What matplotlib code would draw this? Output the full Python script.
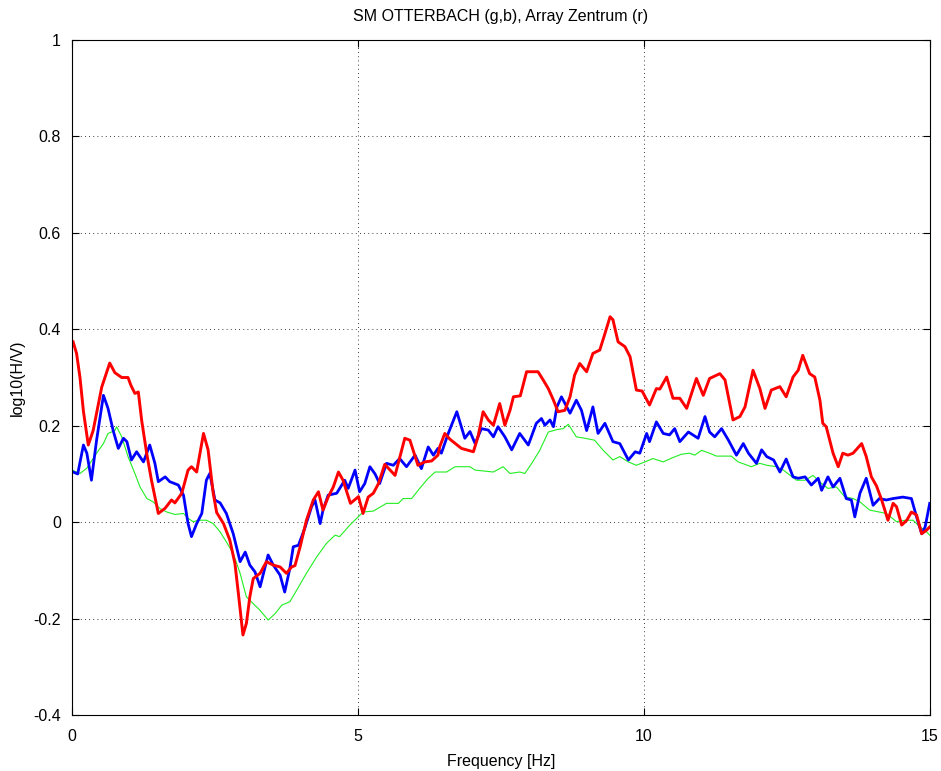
import matplotlib
matplotlib.use("Agg")
import matplotlib.pyplot as plt
from matplotlib.ticker import FormatStrFormatter

# --- digitised H/V curves (frequency in Hz, log10(H/V)) ---
green_f = [0.02, 0.14, 0.26, 0.43, 0.55, 0.63, 0.75, 0.78, 0.87, 0.98, 1.10, 1.19, 1.31, 1.42,
           1.54, 1.66, 1.80, 1.95, 2.03, 2.12, 2.21, 2.35, 2.47, 2.59, 2.70, 2.82, 2.94, 3.05,
           3.17, 3.29, 3.43, 3.55, 3.67, 3.81, 3.93, 4.10, 4.28, 4.45, 4.60, 4.68, 4.86, 5.09,
           5.27, 5.50, 5.71, 5.79, 5.94, 6.08, 6.23, 6.35, 6.55, 6.70, 6.96, 7.05, 7.37, 7.54,
           7.66, 7.83, 7.92, 8.04, 8.18, 8.33, 8.48, 8.59, 8.68, 8.82, 8.97, 9.14, 9.29, 9.46,
           9.58, 9.73, 9.87, 10.02, 10.16, 10.34, 10.51, 10.66, 10.80, 10.89, 11.01, 11.15,
           11.27, 11.53, 11.65, 11.88, 12.03, 12.15, 12.32, 12.44, 12.67, 12.82, 12.96, 13.08,
           13.22, 13.37, 13.51, 13.66, 13.78, 13.95, 14.12, 14.24, 14.42, 14.57, 14.71, 14.83,
           14.92, 15.0]
green_v = [0.107, 0.101, 0.112, 0.143, 0.163, 0.184, 0.190, 0.198, 0.177, 0.136, 0.101, 0.073,
           0.049, 0.042, 0.028, 0.021, 0.016, 0.018, 0.008, 0.001, 0.004, 0.004, -0.003, -0.020,
           -0.041, -0.065, -0.106, -0.155, -0.169, -0.183, -0.203, -0.190, -0.172, -0.165,
           -0.141, -0.106, -0.072, -0.044, -0.027, -0.030, -0.006, 0.021, 0.023, 0.039, 0.039,
           0.049, 0.049, 0.070, 0.091, 0.104, 0.104, 0.115, 0.115, 0.108, 0.104, 0.115, 0.101,
           0.104, 0.101, 0.122, 0.149, 0.187, 0.192, 0.194, 0.203, 0.177, 0.174, 0.170, 0.149,
           0.129, 0.136, 0.125, 0.118, 0.125, 0.132, 0.125, 0.134, 0.141, 0.143, 0.139, 0.149,
           0.143, 0.137, 0.137, 0.125, 0.115, 0.122, 0.118, 0.115, 0.108, 0.087, 0.087, 0.097,
           0.083, 0.070, 0.073, 0.053, 0.049, 0.042, 0.025, 0.021, 0.018, 0.001, 0.004, 0.004,
           -0.010, -0.017, -0.027]

blue_f = [0.02, 0.10, 0.20, 0.26, 0.34, 0.43, 0.55, 0.63, 0.72, 0.81, 0.90, 0.96, 1.04, 1.13,
          1.25, 1.36, 1.45, 1.51, 1.63, 1.71, 1.86, 1.95, 2.03, 2.09, 2.18, 2.27, 2.35, 2.41,
          2.50, 2.59, 2.70, 2.82, 2.94, 3.03, 3.11, 3.20, 3.29, 3.43, 3.52, 3.64, 3.72, 3.81,
          3.87, 3.96, 4.07, 4.19, 4.25, 4.34, 4.39, 4.48, 4.63, 4.77, 4.83, 4.95, 5.03, 5.12,
          5.21, 5.30, 5.38, 5.50, 5.62, 5.73, 5.85, 6.00, 6.11, 6.23, 6.32, 6.40, 6.46, 6.58,
          6.73, 6.87, 6.96, 7.05, 7.16, 7.28, 7.37, 7.45, 7.57, 7.69, 7.83, 7.98, 8.12, 8.21,
          8.27, 8.36, 8.42, 8.48, 8.56, 8.71, 8.82, 8.91, 9.00, 9.11, 9.20, 9.32, 9.46, 9.58,
          9.73, 9.85, 9.93, 10.05, 10.10, 10.22, 10.34, 10.45, 10.54, 10.63, 10.78, 10.95,
          11.07, 11.15, 11.24, 11.36, 11.48, 11.62, 11.74, 11.83, 11.97, 12.06, 12.15, 12.27,
          12.38, 12.49, 12.61, 12.70, 12.82, 12.93, 13.05, 13.11, 13.22, 13.31, 13.43, 13.54,
          13.63, 13.69, 13.78, 13.89, 14.01, 14.12, 14.24, 14.36, 14.53, 14.68, 14.77, 14.86,
          14.92, 15.0]
blue_v = [0.104, 0.100, 0.160, 0.143, 0.087, 0.170, 0.263, 0.236, 0.190, 0.153, 0.174, 0.167,
          0.129, 0.146, 0.125, 0.160, 0.122, 0.084, 0.094, 0.084, 0.077, 0.056, -0.003, -0.030,
          -0.003, 0.018, 0.087, 0.101, 0.046, 0.040, 0.018, -0.024, -0.082, -0.062, -0.089,
          -0.103, -0.134, -0.068, -0.089, -0.110, -0.145, -0.096, -0.051, -0.048, -0.013, 0.032,
          0.046, -0.003, 0.025, 0.056, 0.060, 0.087, 0.070, 0.108, 0.063, 0.080, 0.115, 0.100,
          0.080, 0.122, 0.118, 0.132, 0.115, 0.139, 0.111, 0.156, 0.139, 0.153, 0.143, 0.184,
          0.229, 0.174, 0.188, 0.163, 0.194, 0.191, 0.177, 0.198, 0.177, 0.150, 0.184, 0.160,
          0.205, 0.215, 0.201, 0.212, 0.198, 0.239, 0.260, 0.226, 0.253, 0.232, 0.190, 0.239,
          0.184, 0.205, 0.167, 0.163, 0.129, 0.146, 0.143, 0.184, 0.167, 0.208, 0.184, 0.181,
          0.194, 0.167, 0.187, 0.174, 0.219, 0.187, 0.177, 0.194, 0.170, 0.139, 0.163, 0.143,
          0.122, 0.150, 0.136, 0.129, 0.104, 0.131, 0.094, 0.091, 0.094, 0.077, 0.091, 0.066,
          0.094, 0.073, 0.091, 0.049, 0.046, 0.011, 0.060, 0.091, 0.035, 0.049, 0.046, 0.049,
          0.052, 0.049, 0.011, -0.024, -0.010, 0.039]

red_f = [0.02, 0.08, 0.14, 0.20, 0.285, 0.37, 0.52, 0.66, 0.75, 0.87, 0.98, 1.03, 1.10, 1.16,
         1.22, 1.31, 1.39, 1.51, 1.63, 1.74, 1.80, 1.92, 2.03, 2.09, 2.18, 2.30, 2.38, 2.47,
         2.53, 2.65, 2.76, 2.85, 2.91, 2.99, 3.05, 3.11, 3.17, 3.29, 3.40, 3.52, 3.64, 3.75,
         3.84, 3.90, 3.99, 4.10, 4.22, 4.31, 4.39, 4.48, 4.57, 4.66, 4.74, 4.87, 5.01, 5.09,
         5.18, 5.27, 5.36, 5.47, 5.65, 5.82, 5.91, 6.05, 6.17, 6.29, 6.40, 6.43, 6.52, 6.61,
         6.81, 7.02, 7.10, 7.19, 7.28, 7.37, 7.48, 7.57, 7.66, 7.72, 7.84, 7.95, 8.15, 8.24,
         8.33, 8.42, 8.50, 8.62, 8.71, 8.79, 8.88, 9.00, 9.11, 9.23, 9.32, 9.41, 9.46, 9.55,
         9.67, 9.76, 9.87, 9.97, 10.10, 10.22, 10.28, 10.40, 10.51, 10.63, 10.75, 10.92,
         11.04, 11.15, 11.33, 11.42, 11.56, 11.68, 11.77, 11.91, 12.03, 12.12, 12.23, 12.38,
         12.49, 12.61, 12.70, 12.78, 12.90, 12.99, 13.08, 13.13, 13.19, 13.31, 13.40, 13.48,
         13.57, 13.66, 13.81, 13.89, 13.98, 14.07, 14.16, 14.27, 14.36, 14.42, 14.51, 14.60,
         14.68, 14.77, 14.86, 14.94, 15.0]
red_v = [0.374, 0.350, 0.300, 0.230, 0.160, 0.190, 0.280, 0.330, 0.310, 0.300, 0.300, 0.284,
         0.267, 0.270, 0.210, 0.140, 0.087, 0.018, 0.029, 0.046, 0.040, 0.060, 0.108, 0.115,
         0.104, 0.184, 0.150, 0.060, 0.020, -0.003, -0.037, -0.086, -0.148, -0.234, -0.210,
         -0.155, -0.117, -0.106, -0.082, -0.089, -0.093, -0.106, -0.093, -0.090, -0.051,
         0.004, 0.046, 0.063, 0.025, 0.052, 0.073, 0.104, 0.087, 0.039, 0.053, 0.018, 0.052,
         0.060, 0.080, 0.120, 0.097, 0.174, 0.170, 0.118, 0.125, 0.127, 0.139, 0.156, 0.184,
         0.172, 0.153, 0.146, 0.177, 0.229, 0.212, 0.201, 0.246, 0.201, 0.232, 0.260, 0.262,
         0.312, 0.312, 0.295, 0.277, 0.253, 0.229, 0.232, 0.260, 0.305, 0.329, 0.312, 0.350,
         0.357, 0.391, 0.426, 0.420, 0.374, 0.364, 0.343, 0.274, 0.272, 0.243, 0.277, 0.276,
         0.301, 0.257, 0.257, 0.236, 0.298, 0.263, 0.298, 0.308, 0.295, 0.212, 0.219, 0.239,
         0.315, 0.277, 0.236, 0.274, 0.281, 0.260, 0.301, 0.315, 0.346, 0.308, 0.301, 0.253,
         0.205, 0.198, 0.143, 0.115, 0.143, 0.139, 0.143, 0.163, 0.136, 0.094, 0.075, 0.046,
         0.004, 0.039, 0.032, -0.006, 0.004, 0.021, 0.015, -0.024, -0.017, -0.010]

x_ticks = [0, 5, 10, 15]
y_ticks = [-0.4, -0.2, 0, 0.2, 0.4, 0.6, 0.8, 1]

plt.rcParams['font.family'] = ['Liberation Sans', 'DejaVu Sans']
plt.rcParams['axes.unicode_minus'] = False

fig = plt.figure(figsize=(9.41, 7.71), dpi=100)
ax = fig.add_axes([0.0765, 0.0726, 0.9115, 0.8755])

ax.plot(green_f, green_v, color='#22ee22', linewidth=0.8, solid_joinstyle='round')
ax.plot(blue_f, blue_v, color='#0000ff', linewidth=2.0, solid_joinstyle='round')
ax.plot(red_f, red_v, color='#ff0000', linewidth=2.1, solid_joinstyle='round')

ax.set_xlim(0, 15)
ax.set_ylim(-0.4, 1)
ax.set_xticks(x_ticks)
ax.set_yticks(y_ticks)
ax.yaxis.set_major_formatter(FormatStrFormatter('%g'))
ax.tick_params(direction='in', length=5, labelsize=11.5, top=True, right=True)
ax.tick_params(axis='x', pad=10)
ax.tick_params(axis='y', pad=8)
ax.grid(True, color='black', linestyle=(0, (1, 4)), linewidth=0.6)
for s in ax.spines.values():
    s.set_linewidth(0.8)

ax.set_title('SM OTTERBACH (g,b), Array Zentrum (r)', fontsize=11.5, pad=14)
ax.set_xlabel('Frequency [Hz]', fontsize=11.5, labelpad=7)
ax.set_ylabel('log10(H/V)', fontsize=11.5, labelpad=6)

fig.savefig('out.png', dpi=100)
